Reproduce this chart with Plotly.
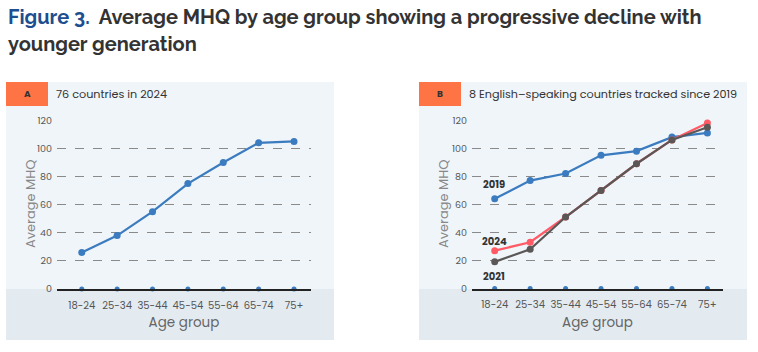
import plotly.graph_objects as go

W, H = 758, 352

age_groups = ["18-24", "25-34", "35-44", "45-54", "55-64", "65-74", "75+"]
mhq_2024_all = [26, 38, 55, 75, 90, 104, 105]
mhq_2019 = [64, 77, 82, 95, 98, 108, 111]
mhq_2021 = [19, 28, 51, 70, 89, 106, 115]
mhq_2024 = [27, 33, 51, 70, 89, 106, 118]
y_ticks = [0, 20, 40, 60, 80, 100, 120]

BLUE = "#3b7bbf"
RED = "#ff5a66"
GRAY = "#5b5757"
ORANGE = "#ff7444"
BG = "#eff5f9"
BAND = "#e3ebf1"
FONT = "Poppins, Lato, Open Sans, sans-serif"

def px(x):
    return x / W

def py(y):
    return 1 - y / H

fig = go.Figure()

# Panel A
fig.add_trace(go.Scatter(x=list(range(7)), y=[0] * 7, mode="markers",
                         marker=dict(color=BLUE, size=5), cliponaxis=False,
                         xaxis="x", yaxis="y", showlegend=False, hoverinfo="skip"))
fig.add_trace(go.Scatter(x=list(range(7)), y=mhq_2024_all, mode="lines+markers",
                         line=dict(color=BLUE, width=2.2), marker=dict(size=7, color=BLUE),
                         cliponaxis=False, xaxis="x", yaxis="y", showlegend=False))

# Panel B
fig.add_trace(go.Scatter(x=list(range(7)), y=[0] * 7, mode="markers",
                         marker=dict(color=BLUE, size=5), cliponaxis=False,
                         xaxis="x2", yaxis="y2", showlegend=False, hoverinfo="skip"))
for vals, col in [(mhq_2019, BLUE), (mhq_2024, RED), (mhq_2021, GRAY)]:
    fig.add_trace(go.Scatter(x=list(range(7)), y=vals, mode="lines+markers",
                             line=dict(color=col, width=2.2), marker=dict(size=7, color=col),
                             cliponaxis=False, xaxis="x2", yaxis="y2", showlegend=False))

ax_common = dict(
    tickmode="array", tickvals=list(range(7)), ticktext=age_groups,
    showgrid=False, zeroline=False, showline=True, linecolor="#222", linewidth=1.5,
    ticks="", tickfont=dict(size=10, color="#555", family=FONT), ticklabelstandoff=6,
    title=dict(text="Age group", font=dict(size=13.5, color="#666", family=FONT), standoff=6),
    fixedrange=True, automargin=False,
)
ay_common = dict(
    range=[0, 120], tickvals=y_ticks, showgrid=True, gridcolor="#8a8a8a",
    griddash="dash", gridwidth=1, zeroline=False, showline=False, ticks="",
    tickfont=dict(size=9.5, color="#555", family=FONT), ticklabelstandoff=4,
    fixedrange=True, automargin=False,
)

fig.update_layout(
    width=W, height=H, margin=dict(l=0, r=0, t=0, b=0, autoexpand=False),
    paper_bgcolor="white", plot_bgcolor="rgba(0,0,0,0)",
    font=dict(family=FONT),
    xaxis=dict(domain=[px(57), px(311)], range=[-0.7, 6.48], anchor="y", **ax_common),
    yaxis=dict(domain=[py(289), py(120.3)], anchor="x", **ay_common),
    xaxis2=dict(domain=[px(472), px(723)], range=[-0.64, 6.44], anchor="y2", **ax_common),
    yaxis2=dict(domain=[py(288.5), py(120.3)], anchor="x2", **ay_common),
)

shapes = []
for x0, x1 in [(6, 334), (419, 747)]:
    shapes.append(dict(type="rect", xref="paper", yref="paper", x0=px(x0), x1=px(x1),
                       y0=py(340), y1=py(82), fillcolor=BG, line=dict(width=0), layer="below"))
    shapes.append(dict(type="rect", xref="paper", yref="paper", x0=px(x0), x1=px(x1),
                       y0=py(340), y1=py(289), fillcolor=BAND, line=dict(width=0), layer="below"))
shapes.append(dict(type="rect", xref="paper", yref="paper", x0=px(6), x1=px(48),
                   y0=py(106), y1=py(82), fillcolor=ORANGE, line=dict(width=0), layer="below"))
shapes.append(dict(type="rect", xref="paper", yref="paper", x0=px(419), x1=px(461),
                   y0=py(106), y1=py(82), fillcolor=ORANGE, line=dict(width=0), layer="below"))
fig.update_layout(shapes=shapes)

ann = []
title_font = dict(family="Raleway, Lato, sans-serif", size=20, color="#333")
ann.append(dict(xref="paper", yref="paper", x=px(6), y=py(17), xanchor="left", yanchor="middle",
                text="<b><span style='color:#1d4e8f'>Figure 3.</span>  Average MHQ by age group showing a progressive decline with</b>",
                showarrow=False, font=title_font))
ann.append(dict(xref="paper", yref="paper", x=px(6), y=py(44), xanchor="left", yanchor="middle",
                text="<b>younger generation</b>", showarrow=False, font=title_font))
ann.append(dict(xref="paper", yref="paper", x=px(27), y=py(94), xanchor="center", yanchor="middle",
                text="<b>A</b>", showarrow=False, font=dict(size=9, color="#333", family=FONT)))
ann.append(dict(xref="paper", yref="paper", x=px(440), y=py(94), xanchor="center", yanchor="middle",
                text="<b>B</b>", showarrow=False, font=dict(size=9, color="#333", family=FONT)))
ann.append(dict(xref="paper", yref="paper", x=px(54), y=py(94), xanchor="left", yanchor="middle",
                text="76 countries in 2024", showarrow=False, font=dict(size=11.2, color="#333", family=FONT)))
ann.append(dict(xref="paper", yref="paper", x=px(467), y=py(94), xanchor="left", yanchor="middle",
                text="8 English\u2013speaking countries tracked since 2019", showarrow=False,
                font=dict(size=11.2, color="#333", family=FONT)))
# y-axis titles
for xc in (30, 443):
    ann.append(dict(xref="paper", yref="paper", x=px(xc), y=py(204), xanchor="center", yanchor="middle",
                    text="Average MHQ", textangle=-90, showarrow=False,
                    font=dict(size=13, color="#888", family=FONT)))
lab_font = dict(size=10, color="#333", family=FONT)
ann.append(dict(xref="paper", yref="paper", x=px(494), y=py(185), text="<b>2019</b>",
                xanchor="center", yanchor="middle", showarrow=False, font=lab_font))
ann.append(dict(xref="paper", yref="paper", x=px(494), y=py(241), text="<b>2024</b>",
                xanchor="center", yanchor="middle", showarrow=False, font=lab_font))
ann.append(dict(xref="paper", yref="paper", x=px(494), y=py(276), text="<b>2021</b>",
                xanchor="center", yanchor="middle", showarrow=False, font=lab_font))
fig.update_layout(annotations=ann)

fig.write_html("out.html")
